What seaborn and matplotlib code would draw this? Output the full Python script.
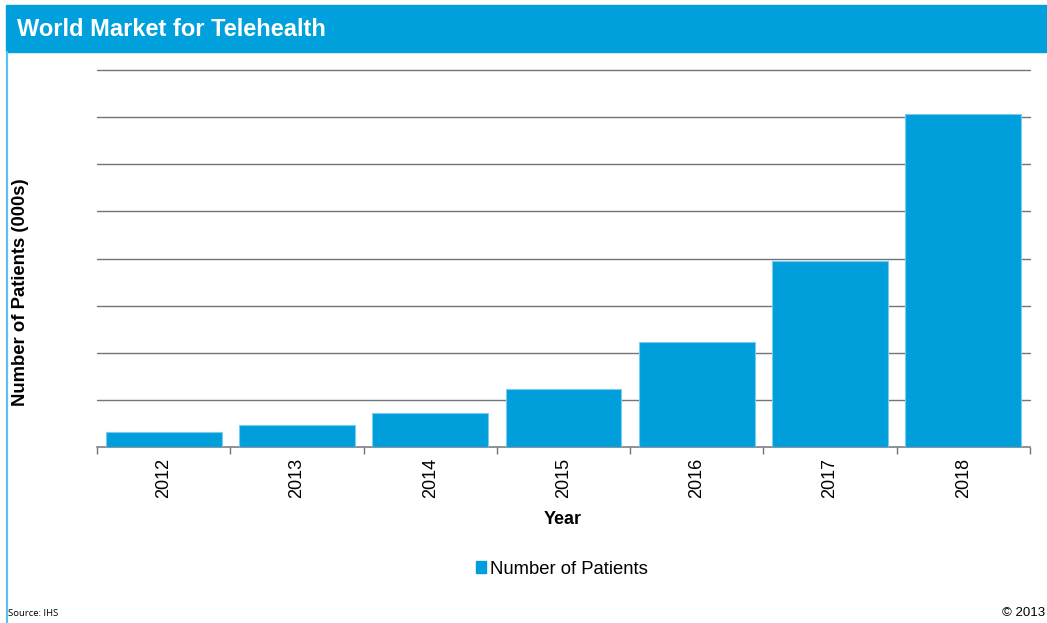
import numpy as np
import pandas as pd
import seaborn as sns
import matplotlib.pyplot as plt
from matplotlib.patches import Rectangle, Patch
from matplotlib.lines import Line2D

# world telehealth patients, thousands
years = ["2012", "2013", "2014", "2015", "2016", "2017", "2018"]
patients = [325, 468, 723, 1240, 2234, 3957, 7060]
grid_steps = [1000, 2000, 3000, 4000, 5000, 6000, 7000, 8000]

blue = "#009FDB"
W, H = 1047, 623

sns.set_theme(style="white")
plt.rcParams['font.family'] = ['Liberation Sans', 'DejaVu Sans']
plt.rcParams['text.color'] = 'black'

fig = plt.figure(figsize=(W / 100, H / 100), dpi=100)
ax = fig.add_axes([97 / W, 1 - 447 / H, (1030 - 97) / W, (447 - 70) / H])

df = pd.DataFrame({"Year": years, "Patients": patients})
sns.barplot(data=df, x="Year", y="Patients", color=blue, saturation=1,
            width=0.87, edgecolor="#7CCBEE", linewidth=0.8, ax=ax, zorder=3)

ax.set_ylim(0, 8000)
ax.set_xlim(-0.5, len(years) - 0.5)
for g in grid_steps:
    ax.axhline(g, color="#6E757D", lw=1.0, zorder=1, clip_on=False)

for s in ["left", "right", "top"]:
    ax.spines[s].set_visible(False)
ax.spines["bottom"].set_color("#6E757D")
ax.spines["bottom"].set_linewidth(1.1)

ax.set_yticks([])
ax.set_xticks(np.arange(-0.5, len(years)), minor=True)
ax.tick_params(axis="x", which="major", length=0, pad=8, labelsize=13,
               labelrotation=90, colors="black")
ax.tick_params(axis="x", which="minor", length=5, width=1, color="#6E757D",
               direction="out", bottom=True)
ax.set_xlabel("")
ax.set_ylabel("")

# header bar and left border
fig.patches.append(Rectangle((6 / W, 1 - 52 / H), 1 - 6 / W, 47 / H,
                             transform=fig.transFigure, color="#00A0DC", zorder=0))
fig.lines.append(Line2D([6.8 / W, 6.8 / W], [0, 1 - 52 / H], transform=fig.transFigure,
                        color="#5BC0EB", lw=1.6))
fig.text(17 / W, 1 - 29 / H, "World Market for Telehealth", color="white",
         fontsize=17, fontweight="bold", va="center", ha="left")

fig.text(563 / W, 1 - 520 / H, "Year", fontsize=13, fontweight="bold",
         ha="center", va="center")
fig.text(21 / W, 1 - 292 / H, "Number of Patients (000s)", fontsize=13.3,
         fontweight="bold", rotation=90, ha="center", va="center")

fig.legend(handles=[Patch(color=blue, label="Number of Patients")],
           loc="center", bbox_to_anchor=(562 / W, 1 - 569 / H), frameon=False,
           fontsize=13.3, handlelength=0.55, handleheight=0.55, handletextpad=0.2)

fig.text(8 / W, 1 - 614 / H, "Source: IHS", fontsize=6.8, family=["Open Sans", "DejaVu Sans"],
         ha="left", va="center")
fig.text(1045 / W, 1 - 613 / H, "\u00a9 2013", fontsize=9.5, ha="right", va="center")

fig.savefig("out.png", dpi=100, facecolor="white")
